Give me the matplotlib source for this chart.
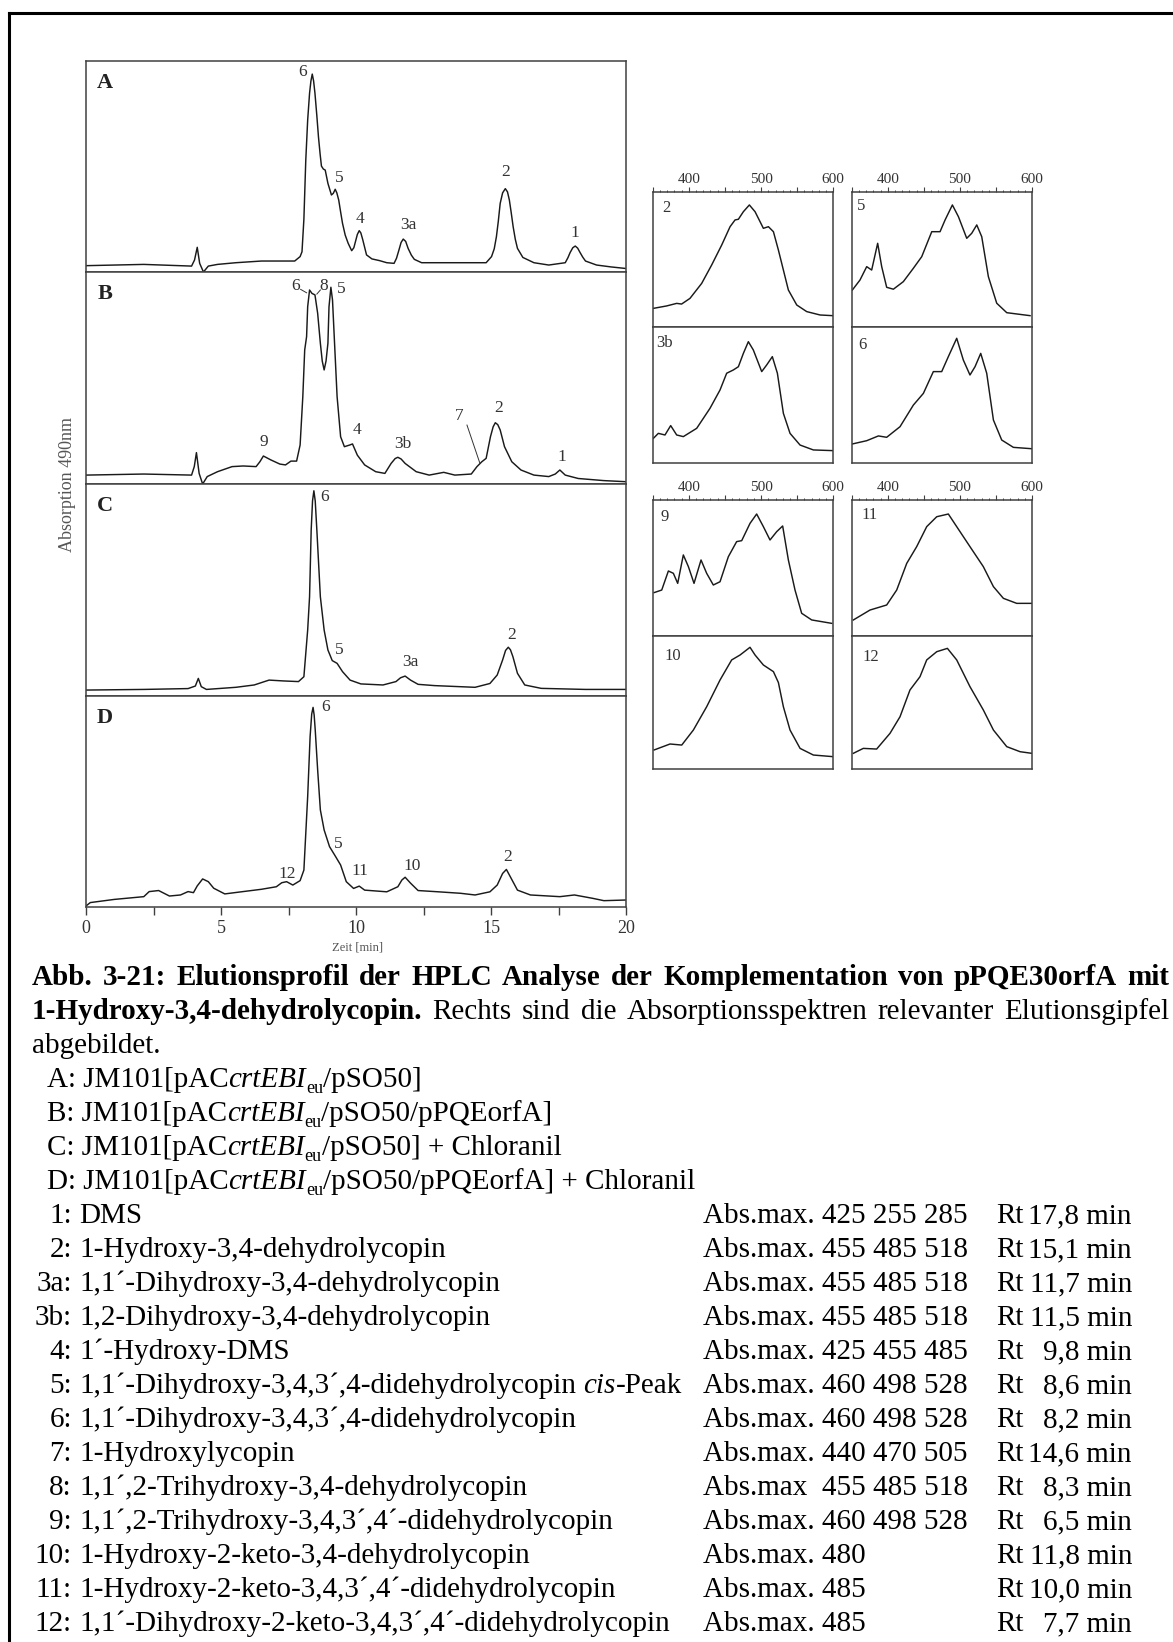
import matplotlib
matplotlib.use('Agg')
import matplotlib.pyplot as plt
from matplotlib.lines import Line2D

W, H = 1173, 1642
plt.rcParams['font.family'] = ['Liberation Serif', 'DejaVu Serif']

# HPLC chromatograms, time [min] and absorption (% of panel height)
t_a = [0, 2.14, 3.91, 4.02, 4.12, 4.21, 4.35, 4.53, 4.87, 5.55, 6.5, 7.73, 7.93, 8.0, 8.07, 8.14, 8.21, 8.28,
       8.33, 8.38, 8.43, 8.48, 8.55, 8.61, 8.67, 8.72, 8.79, 8.86, 8.96, 9.09, 9.16, 9.23, 9.29, 9.36, 9.43,
       9.5, 9.6, 9.71, 9.84, 9.92, 9.98, 10.05, 10.12, 10.18, 10.25, 10.39, 10.59,
       10.87, 11.14, 11.41, 11.5, 11.59, 11.67, 11.75, 11.84, 11.93, 12.05, 12.16, 12.43, 14.82, 15.02, 15.12,
       15.2, 15.27, 15.34, 15.43, 15.53, 15.61, 15.68, 15.75, 15.82, 15.9, 15.98, 16.18, 16.59, 17.14, 17.75,
       17.85, 17.93, 18.03, 18.12, 18.21, 18.3, 18.4, 18.5, 18.91, 19.45, 19.97]
v_a = [3.0, 3.6, 2.8, 5.7, 11.7, 4.1, 0.0, 2.8, 3.6, 4.4, 5.2, 5.2, 7.3, 9.6, 25.0, 53.0, 72.0, 84.7,
       90.5, 93.8, 90.5, 84.7, 74.0, 64.0, 56.0, 50.2, 48.8, 48.3, 42.0, 36.5, 37.3, 39.2, 37.5, 34.1, 28.5,
       23.1, 17.5, 13.6, 10.1, 11.5, 14.4, 17.8, 19.6, 18.5, 15.3, 8.1, 6.2,
       5.4, 4.4, 4.1, 6.5, 10.4, 14.0, 15.6, 14.5, 11.2, 8.0, 6.0, 4.4, 4.4, 7.3, 11.0,
       16.7, 24.0, 32.5, 37.5, 39.5, 38.0, 34.1, 28.0, 21.5, 15.5, 11.2, 6.9, 4.4, 3.3, 4.4,
       6.8, 9.2, 11.5, 12.3, 11.3, 9.2, 7.0, 5.2, 3.3, 2.4, 1.7]

t_b = [0, 2.14, 3.91, 4.01, 4.09, 4.19, 4.32, 4.49, 4.87, 5.41, 5.82, 6.3, 6.44, 6.57, 6.84, 7.18, 7.39,
       7.59, 7.8, 7.93, 8.03, 8.1, 8.17, 8.21, 8.28, 8.37, 8.48, 8.58, 8.68, 8.75, 8.82, 8.89, 8.96, 9.0,
       9.07, 9.13, 9.2, 9.3, 9.43, 9.57, 9.77, 9.87, 10.05, 10.32, 10.73, 11.07, 11.3, 11.45, 11.55, 11.67,
       11.82, 12.23, 12.71, 13.25, 13.66, 14.27, 14.48, 14.66, 14.82, 14.98, 15.08, 15.16, 15.25, 15.34,
       15.5, 15.77, 16.11, 16.59, 17.14, 17.38, 17.55, 17.75, 18.23, 19.18, 19.97]
v_b = [4.2, 4.7, 4.2, 8.2, 14.8, 5.0, 0.0, 3.5, 5.8, 8.2, 8.5, 8.2, 10.5, 13.2, 11.4, 9.4, 9.0,
       10.8, 10.8, 18.4, 41.2, 63.2, 69.5, 83.6, 91.5, 89.9, 89.2, 80.5, 66.4, 58.0, 53.8, 58.0, 66.4, 83.6,
       92.8, 86.8, 67.9, 41.2, 22.3, 17.6, 18.4, 18.9, 13.6, 9.0, 5.8, 5.0, 9.7, 12.0, 12.6, 11.8,
       9.7, 5.8, 4.2, 5.5, 4.2, 4.7, 8.2, 10.5, 12.1, 22.3, 27.0, 28.9, 28.0, 25.5,
       17.6, 10.5, 6.6, 4.2, 3.5, 4.7, 6.6, 4.2, 2.6, 1.6, 1.1]

t_c = [0, 2.14, 3.78, 4.05, 4.16, 4.27, 4.46, 5.55, 6.23, 6.78, 7.32, 7.87, 8.07, 8.21, 8.28, 8.34, 8.39,
       8.44, 8.49, 8.55, 8.68, 8.82, 8.96, 9.12, 9.3, 9.5, 9.78, 10.18, 11.0, 11.48, 11.65, 11.82, 12.02,
       12.3, 12.91, 14.41, 14.96, 15.23, 15.43, 15.54, 15.64, 15.72, 15.81, 15.98, 16.25, 16.86, 18.5, 19.97]
v_c = [2.8, 3.1, 3.5, 4.7, 8.3, 4.4, 3.1, 4.1, 5.2, 7.5, 7.1, 6.8, 9.1, 31.1, 46.8, 78.3, 92.0,
       96.8, 92.0, 78.3, 46.8, 31.1, 21.7, 16.7, 15.4, 11.5, 7.5, 5.7, 5.2, 6.8, 8.6, 9.4, 7.5,
       5.5, 4.9, 4.1, 5.9, 9.9, 17.0, 21.5, 23.0, 21.8, 18.6, 10.7, 5.2, 3.6, 3.1, 3.1]

t_d = [0, 0.16, 1.05, 2.14, 2.34, 2.69, 3.09, 3.5, 3.78, 3.98, 4.12, 4.32, 4.53, 4.73, 5.14, 5.69, 6.5,
       7.05, 7.25, 7.43, 7.66, 7.93, 8.07, 8.21, 8.3, 8.36, 8.41, 8.45, 8.49, 8.58, 8.68, 8.82, 9.02, 9.23,
       9.43, 9.64, 9.91, 10.12, 10.32, 11.14, 11.55, 11.7, 11.82, 12.02, 12.3, 13.05, 13.87, 14.41, 14.96,
       15.23, 15.43, 15.57, 15.75, 15.98, 16.46, 17.55, 18.09, 18.77, 19.18, 19.97]
v_d = [0.5, 2.1, 3.6, 4.9, 7.3, 7.8, 5.2, 5.7, 7.3, 6.8, 10.0, 13.3, 12.0, 8.9, 6.2, 7.1, 8.4,
       9.6, 11.5, 12.0, 10.4, 12.5, 17.5, 52.3, 80.7, 91.5, 94.6, 91.0, 83.9, 64.9, 46.0, 36.5, 28.6, 24.2,
       19.9, 12.0, 8.8, 9.9, 8.0, 7.2, 9.6, 12.8, 14.1, 11.3, 7.8, 7.2, 6.5, 5.7, 7.2,
       10.4, 15.9, 17.8, 13.5, 8.0, 5.7, 4.9, 5.7, 4.1, 3.0, 3.3]

# peak labels: (label, time, height)
peaks_a = [("6", 8.03, 94.9), ("5", 9.37, 44.5), ("4", 10.13, 25.1), ("3a", 11.93, 22.3), ("2", 15.53, 47.5), ("1", 18.12, 18.6)]
peaks_b = [("6", 7.76, 93.4), ("8", 8.79, 93.4), ("5", 9.44, 91.8), ("9", 6.57, 20.0), ("4", 10.02, 25.5),
           ("3b", 11.73, 18.7), ("7", 13.84, 32.0), ("2", 15.27, 35.7), ("1", 17.62, 12.6)]
peaks_c = [("6", 8.82, 94.0), ("5", 9.37, 21.7), ("3a", 12.03, 16.2), ("2", 15.75, 28.8)]
peaks_d = [("6", 8.86, 94.6), ("5", 9.34, 29.7), ("12", 7.46, 15.5), ("11", 10.14, 17.2), ("10", 12.07, 19.4), ("2", 15.61, 23.9)]

# absorption spectra, wavelength [nm] and absorption (% of panel height)
wl_2 = [350.9, 369.3, 383.2, 390, 401.6, 417.8, 431.6, 445.5, 457.1, 464, 468.6, 475.5, 483.8, 491.7, 503.2, 510.2, 517.1, 524, 530.9, 537.8, 549.4, 563.2, 581.7, 599.2]
ab_2 = [13.8, 15.6, 17.5, 17.0, 21.2, 32.3, 45.9, 60.7, 74.3, 79.3, 79.8, 85.4, 90.4, 85.4, 73.1, 74.3, 70.6, 57.0, 42.2, 27.4, 16.3, 11.4, 8.9, 8.4]
wl_3b = [350.9, 357.8, 367, 374.9, 383.2, 392.4, 410.9, 429.3, 443.2, 452.4, 461.6, 468.6, 475.5, 482.4, 489.3, 500.9, 507.8, 515.6, 522.6, 530.9, 540.1, 554, 572.4, 599.2]
ab_3b = [18.1, 21.8, 20.6, 27.5, 20.6, 19.4, 25.5, 40.2, 53.7, 66.0, 68.4, 70.8, 80.6, 89.2, 83.1, 67.2, 72.1, 78.2, 66.0, 36.5, 21.8, 13.2, 9.6, 9.1]
wl_5 = [350.9, 361.5, 370.8, 377.7, 386, 391.6, 398.5, 407.8, 421.6, 435.5, 447.1, 461, 472.5, 479.5, 489.6, 498, 509.5, 516.4, 523.4, 530.3, 539.5, 551.1, 565, 597.3]
ab_5 = [27.4, 34.8, 44.7, 42.2, 62.0, 44.7, 29.4, 28.0, 33.6, 43.5, 52.1, 70.6, 70.6, 79.3, 90.4, 81.7, 65.7, 69.4, 75.6, 66.9, 37.3, 17.6, 10.6, 8.4]
wl_6 = [350.9, 370.8, 387, 398.5, 417, 435.5, 449.4, 463.2, 474.8, 484, 495.6, 504.8, 514, 521, 528.9, 537.2, 546.5, 558, 574.2, 599.6]
ab_6 = [14.0, 16.4, 19.9, 18.9, 26.7, 42.6, 51.2, 67.2, 67.2, 78.2, 91.7, 75.7, 64.7, 70.8, 80.6, 66.0, 31.6, 16.9, 11.5, 10.5]
wl_9 = [351.9, 362.5, 371.7, 378.6, 384.6, 392.4, 399.4, 407.2, 416.9, 424.7, 433.9, 443.2, 454.7, 466.2, 473.2, 484.7, 493.9, 503.2, 512.4, 521.6, 529.9, 537.8, 547, 556.2, 570.1, 597.8]
ab_9 = [31.9, 33.8, 47.8, 46.1, 38.7, 59.6, 51.0, 38.7, 55.9, 46.1, 37.5, 39.9, 58.3, 69.4, 70.1, 82.8, 89.7, 80.4, 70.6, 76.7, 80.9, 55.9, 33.8, 16.7, 11.8, 9.3]
wl_11 = [352.3, 375.4, 398.5, 412.4, 426.3, 440.1, 454, 467.9, 484, 495.6, 514, 532.5, 546.5, 560.3, 578.8, 599.6]
ab_11 = [11.8, 19.1, 22.8, 33.8, 53.4, 65.7, 80.4, 87.7, 89.7, 80.4, 65.7, 51.0, 36.3, 27.7, 24.0, 24.0]
wl_10 = [351.9, 374, 390.2, 406.3, 424.7, 443.2, 459.3, 470.9, 484.7, 491.7, 503.2, 517.1, 524, 530.9, 540.1, 554, 572.4, 599.2]
ab_10 = [14.3, 18.8, 18.0, 29.3, 46.8, 66.9, 82.0, 85.7, 91.5, 85.7, 78.2, 73.2, 65.0, 46.8, 29.3, 15.5, 10.5, 9.3]
wl_12 = [352.3, 366.1, 384.6, 403.1, 417, 430.8, 444.7, 454, 467.9, 482.7, 495.6, 514, 532.5, 546.5, 565, 583.5, 599.6]
ab_12 = [11.8, 15.5, 15.0, 26.8, 39.3, 59.4, 69.4, 82.0, 88.2, 90.7, 82.0, 61.9, 44.4, 29.3, 16.8, 13.0, 11.8]

# caption
caption_1 = "Abb. 3-21: Elutionsprofil der HPLC Analyse der Komplementation von pPQE30orfA mit"
caption_2_bold = "1-Hydroxy-3,4-dehydrolycopin."
caption_2 = "Rechts sind die Absorptionsspektren relevanter Elutionsgipfel"
caption_3 = "abgebildet."
strains = ["A", "B", "C", "D"]
strain_tails = ["/pSO50]", "/pSO50/pPQEorfA]", "/pSO50] + Chloranil", "/pSO50/pPQEorfA] + Chloranil"]
cmp_ids = ["1", "2", "3a", "3b", "4", "5", "6", "7", "8", "9", "10", "11", "12"]
cmp_names = ["DMS", "1-Hydroxy-3,4-dehydrolycopin", "1,1\u00b4-Dihydroxy-3,4-dehydrolycopin",
             "1,2-Dihydroxy-3,4-dehydrolycopin", "1\u00b4-Hydroxy-DMS",
             "1,1\u00b4-Dihydroxy-3,4,3\u00b4,4-didehydrolycopin |cis|-Peak",
             "1,1\u00b4-Dihydroxy-3,4,3\u00b4,4-didehydrolycopin", "1-Hydroxylycopin",
             "1,1\u00b4,2-Trihydroxy-3,4-dehydrolycopin", "1,1\u00b4,2-Trihydroxy-3,4,3\u00b4,4\u00b4-didehydrolycopin",
             "1-Hydroxy-2-keto-3,4-dehydrolycopin", "1-Hydroxy-2-keto-3,4,3\u00b4,4\u00b4-didehydrolycopin",
             "1,1\u00b4-Dihydroxy-2-keto-3,4,3\u00b4,4\u00b4-didehydrolycopin"]
cmp_abs = ["Abs.max. 425 255 285", "Abs.max. 455 485 518", "Abs.max. 455 485 518", "Abs.max. 455 485 518",
           "Abs.max. 425 455 485", "Abs.max. 460 498 528", "Abs.max. 460 498 528", "Abs.max. 440 470 505",
           "Abs.max  455 485 518", "Abs.max. 460 498 528", "Abs.max. 480", "Abs.max. 485", "Abs.max. 485"]
cmp_rt = ["17,8", "15,1", "11,7", "11,5", "9,8", "8,6", "8,2", "14,6", "8,3", "6,5", "11,8", "10,0", "7,7"]

fig = plt.figure(figsize=(W / 100, H / 100), dpi=100)
renderer = fig.canvas.get_renderer()


def add_ax(x0, x1, y0, y1):
    return fig.add_axes([x0 / W, 1 - y1 / H, (x1 - x0) / W, (y1 - y0) / H])


def text_px(x, y, s, **kw):
    return fig.text(x / W, 1 - y / H, s, **kw)


def width_px(s, **kw):
    t = text_px(0, 0, s, **kw)
    w = t.get_window_extent(renderer).width
    t.remove()
    return w


# outer frame (cut at right and bottom)
fig.add_artist(Line2D([9 / W, 1], [1 - 13 / H, 1 - 13 / H], color='black', lw=2.2))
fig.add_artist(Line2D([9 / W, 9 / W], [1 - 13 / H, 0], color='black', lw=2.2))

# --- chromatograms
chrom_rows = [(61, 272), (272, 484), (484, 696), (696, 907)]
chrom_t = [t_a, t_b, t_c, t_d]
chrom_v = [v_a, v_b, v_c, v_d]
chrom_peaks = [peaks_a, peaks_b, peaks_c, peaks_d]
for i, letter in enumerate("ABCD"):
    y0, y1 = chrom_rows[i]
    ax = add_ax(86, 626, y0, y1)
    ax.plot(chrom_t[i], chrom_v[i], color='#1a1a1a', lw=1.05, solid_joinstyle='round')
    ax.set_xlim(0, 20)
    ax.set_ylim(0, 100)
    for sp in ax.spines.values():
        sp.set_color('#404040')
        sp.set_linewidth(1.1)
    ax.set_yticks([])
    ax.text(0.71, 89.5, letter, fontsize=16, fontweight='bold', ha='center', va='center', color='#222')
    for lab, tt, vv in chrom_peaks[i]:
        ax.text(tt, vv, lab, fontsize=12.5, ha='center', va='center', color='#333')
    if letter == 'B':
        ax.plot([7.95, 8.17], [91.8, 90.2], color='#333', lw=0.7)
        ax.plot([8.68, 8.55], [91.5, 89.6], color='#333', lw=0.7)
        ax.plot([14.11, 14.58], [27.8, 10.1], color='#333', lw=0.7)
    if letter == 'D':
        ax.set_xticks([0, 2.5, 5, 7.5, 10, 12.5, 15, 17.5, 20])
        ax.set_xticklabels(["0", "", "5", "", "10", "", "15", "", "20"])
        ax.tick_params(axis='x', direction='out', length=5.5, width=1, color='#404040',
                       labelsize=13, pad=4, labelcolor='#333')
    else:
        ax.set_xticks([])

text_px(358, 947, "Zeit [min]", fontsize=9, ha='center', va='center', color='#555')
text_px(67, 485, "Absorption 490nm", fontsize=13, rotation=90, ha='center', va='center', color='#555')

# --- spectra
spec_cols = [(652.7, 833.3), (851.7, 1032)]
spec_rows = [(192, 327), (327, 463), (500, 636), (636, 769)]
spec_grid = [[("2", wl_2, ab_2), ("5", wl_5, ab_5)],
             [("3b", wl_3b, ab_3b), ("6", wl_6, ab_6)],
             [("9", wl_9, ab_9), ("11", wl_11, ab_11)],
             [("10", wl_10, ab_10), ("12", wl_12, ab_12)]]
lab_pos = {"2": (0.055, 0.88), "5": (0.03, 0.9), "3b": (0.02, 0.88), "6": (0.037, 0.87),
           "9": (0.044, 0.877), "11": (0.055, 0.89), "10": (0.068, 0.85), "12": (0.061, 0.84)}
for r, (y0, y1) in enumerate(spec_rows):
    for c, (x0, x1) in enumerate(spec_cols):
        name, wl, ab = spec_grid[r][c]
        ax = add_ax(x0, x1, y0, y1)
        ax.plot(wl, ab, color='#1a1a1a', lw=1.05, solid_joinstyle='round')
        ax.set_xlim(350, 600)
        ax.set_ylim(0, 100)
        ax.set_yticks([])
        for sp in ax.spines.values():
            sp.set_color('#404040')
            sp.set_linewidth(1.1)
        lx, ly = lab_pos[name]
        ax.text(lx, ly, name, transform=ax.transAxes, fontsize=12, ha='left', va='center', color='#333')
        if r in (0, 2):
            ax.xaxis.tick_top()
            ax.set_xticks([350, 400, 450, 500, 550, 600])
            ax.set_xticklabels(["", "400", "", "500", "", "600"])
            ax.set_xticks(range(360, 600, 10), minor=True)
            ax.tick_params(axis='x', which='major', direction='out', length=3.5, width=0.8,
                           color='#404040', labelsize=11, pad=1, labelcolor='#333')
            ax.tick_params(axis='x', which='minor', direction='out', length=1.8, width=0.7, color='#404040')
        else:
            ax.set_xticks([])

# --- caption
FS = 21
reg = dict(fontsize=FS, color='black')
bold = dict(fontsize=FS, fontweight='bold', color='black')
ital = dict(fontsize=FS, style='italic', color='black')
sub = dict(fontsize=FS * 0.62, color='black')
X0, X1 = 32, 1169
space_w = width_px("a a", **reg) - width_px("aa", **reg)


def base(i):
    return 985 + 34.0 * i


def justify(y, words):
    widths = [width_px(w, **kw) for w, kw in words]
    gap = (X1 - X0 - sum(widths)) / (len(words) - 1)
    x = X0
    for (w, kw), wd in zip(words, widths):
        text_px(x, y, w, va='baseline', **kw)
        x += wd + gap


def runs(x, y, parts):
    for s, kw, dy in parts:
        text_px(x, y + dy, s, va='baseline', **kw)
        x += width_px(s, **kw)
    return x


justify(base(0), [(w, bold) for w in caption_1.split()])
justify(base(1), [(caption_2_bold, bold)] + [(w, reg) for w in caption_2.split()])
text_px(X0, base(2), caption_3, va='baseline', **reg)

for i, (s, tail) in enumerate(zip(strains, strain_tails)):
    runs(46.6, base(3 + i), [(s + ": JM101[pAC", reg, 0), ("crtEBI", ital, 0),
                             ("eu", sub, 6), (tail, reg, 0)])

for j, cid in enumerate(cmp_ids):
    y = base(7 + j)
    text_px(72, y, cid + ":", ha='right', va='baseline', **reg)
    x = 72 + space_w
    for k, piece in enumerate(cmp_names[j].split('|')):
        if piece == "":
            continue
        kw = ital if k % 2 == 1 else reg
        text_px(x, y, piece.rstrip(), va='baseline', **kw)
        x += width_px(piece.rstrip(), **kw)
        if piece.endswith(' '):
            x += space_w
    text_px(703, y, cmp_abs[j], va='baseline', **reg)
    text_px(996, y, "Rt", va='baseline', **reg)
    text_px(1132, y, cmp_rt[j] + " min", ha='right', va='baseline', **reg)

fig.savefig("out.png", dpi=100)
